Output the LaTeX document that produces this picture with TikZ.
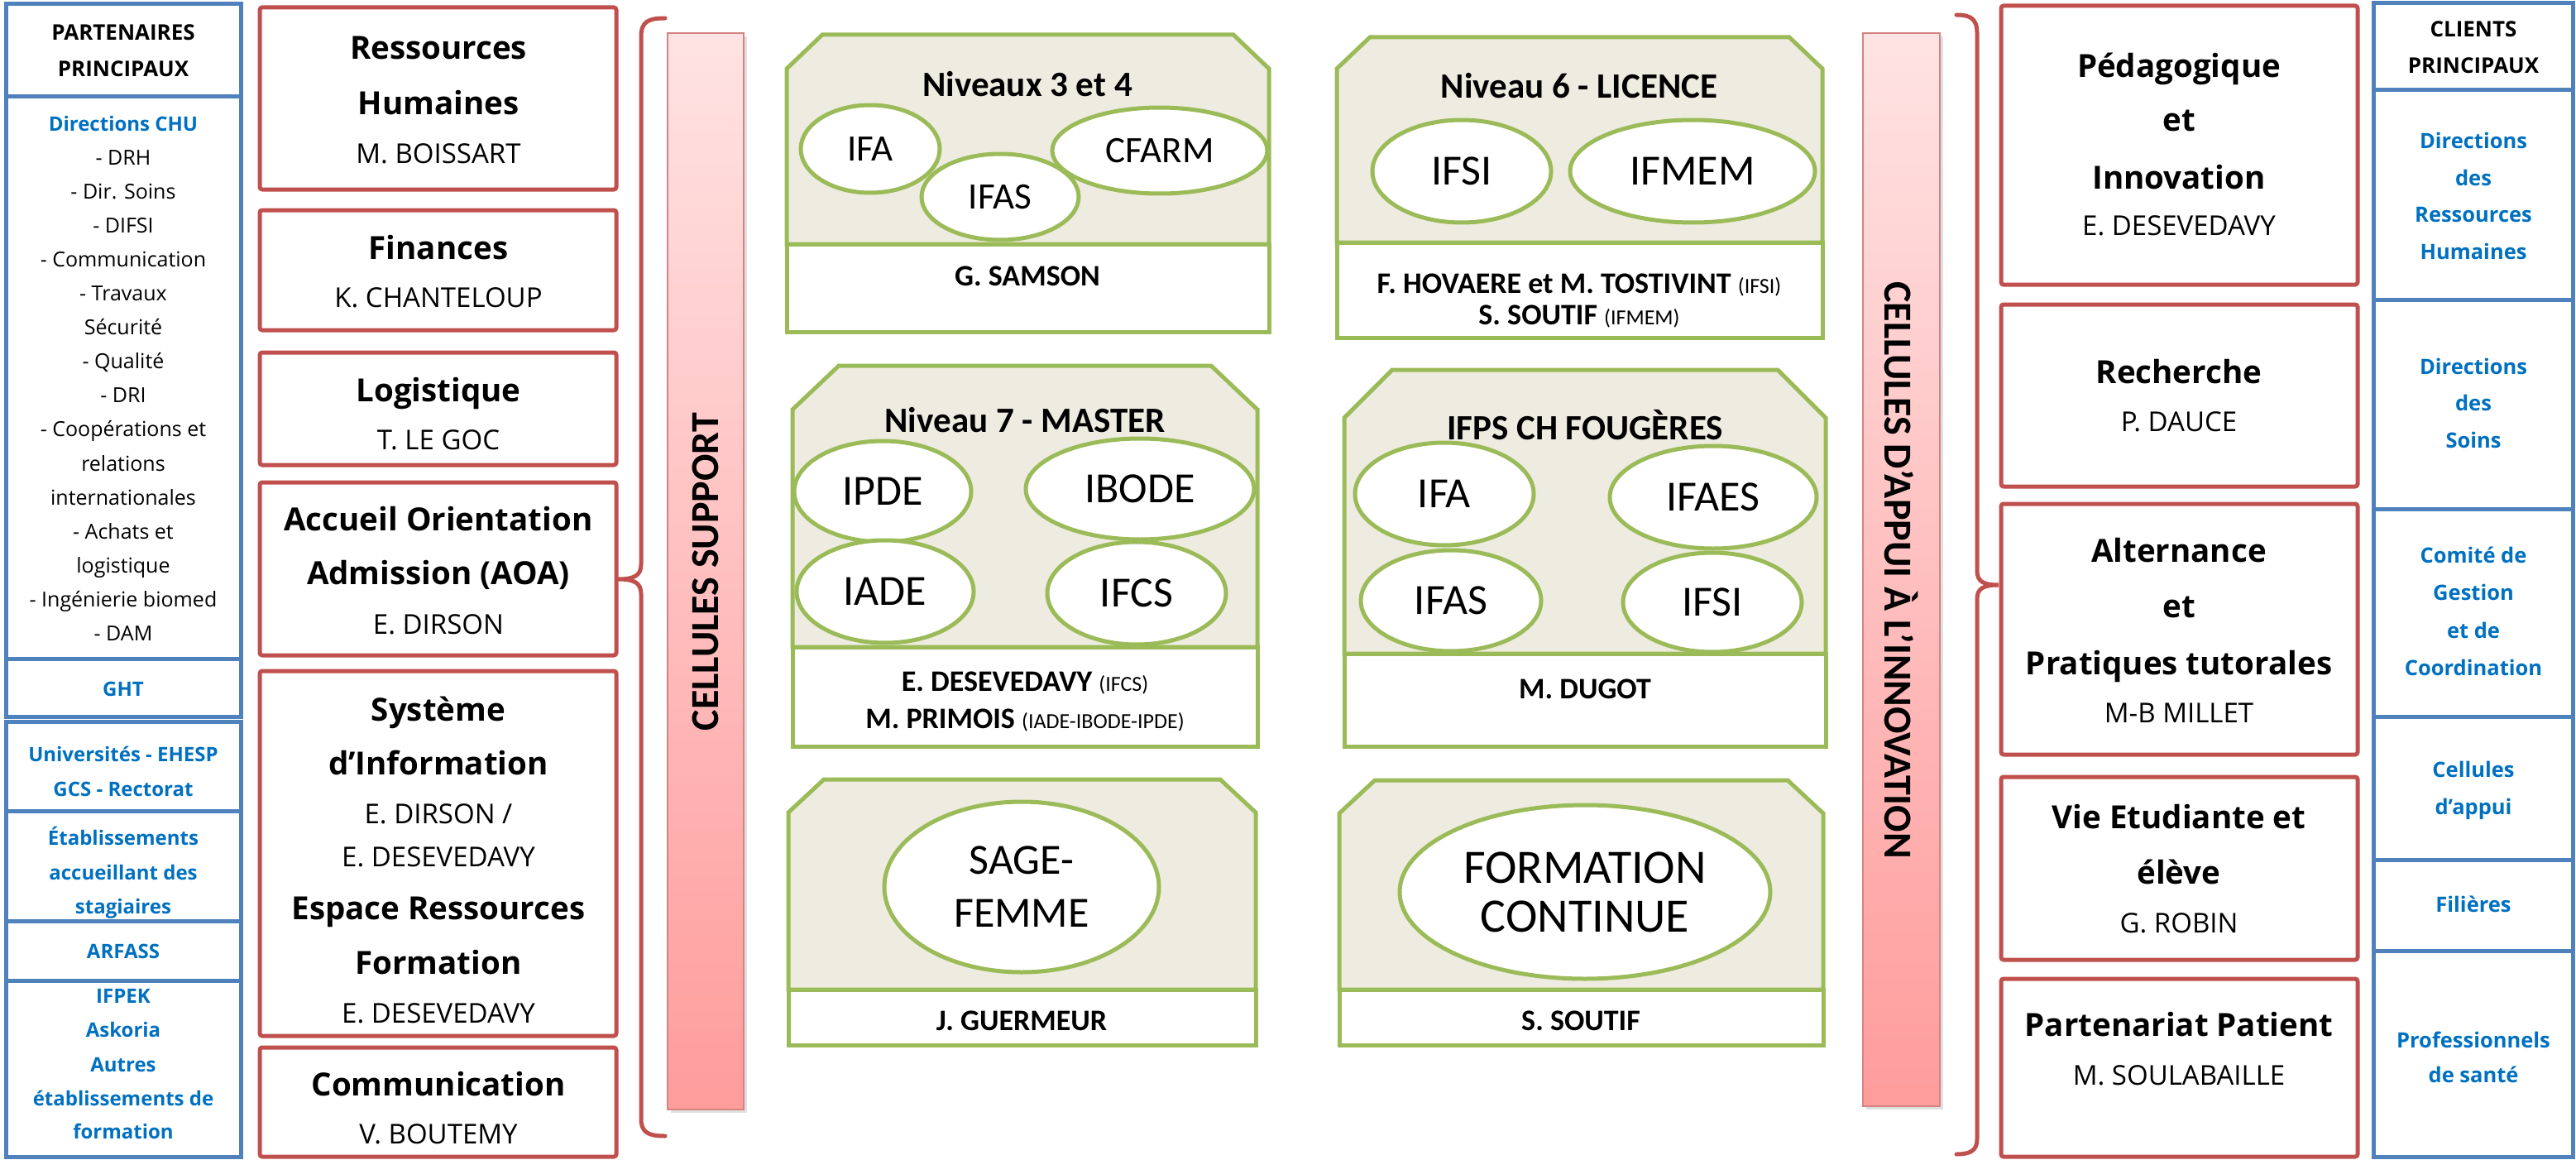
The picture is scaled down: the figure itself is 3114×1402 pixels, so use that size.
\documentclass[tikz,border=0pt]{standalone}
\usepackage{fontspec}
\setmainfont{Open Sans}
\newfontfamily\calf{Carlito}
\usetikzlibrary{shapes.geometric}
\definecolor{redc}{HTML}{C0504D}
\definecolor{bluec}{HTML}{4F81BD}
\definecolor{bluet}{HTML}{0070C0}
\definecolor{greenc}{HTML}{9BBB59}
\definecolor{beige}{HTML}{EEECE1}
\definecolor{pinkt}{HTML}{FFE3E3}
\definecolor{pinkb}{HTML}{FF9C9C}
\newcommand\sm{\calf\fontsize{26}{30}\selectfont\mdseries}
\begin{document}
\begin{tikzpicture}[x=1pt,y=-1pt,
 bluebox/.style={draw=bluec,line width=5pt},
 redbox/.style={draw=redc,line width=5pt,rounded corners=3pt},
 gline/.style={draw=greenc,line width=5pt,line join=miter},
 ell/.style={ellipse,draw=greenc,line width=5pt,fill=white,inner sep=0pt},
 brk/.style={draw=redc,line width=5pt,line cap=round},
 tx/.style={anchor=base,inner sep=0pt},
 ltitle/.style={tx,font=\fontsize{26}{30}\selectfont\bfseries},
 lreg/.style={tx,font=\fontsize{25}{30}\selectfont},
 lblue/.style={tx,text=bluet,font=\fontsize{24}{30}\selectfont\bfseries},
 rblue/.style={tx,text=bluet,font=\fontsize{25.5}{30}\selectfont\bfseries},
 rtitle/.style={tx,font=\fontsize{38.5}{46}\selectfont\bfseries},
 rname/.style={tx,font=\fontsize{33}{40}\selectfont},
 clab/.style={tx,font=\calf\fontsize{43}{50}\selectfont\bfseries},
 cname/.style={tx,font=\calf\fontsize{36}{42}\selectfont\bfseries},
 eA/.style={ell,font=\calf\fontsize{45}{50}\selectfont},
 eB/.style={ell,font=\calf\fontsize{52}{64}\selectfont,align=center},
 vbar/.style={font=\calf\fontsize{48}{50}\selectfont\bfseries,inner sep=0pt},
]
\useasboundingbox (0,0) rectangle (3114,1402);

% ---------- left column: partenaires ----------
\draw[bluebox] (7,5) rectangle (291,117);
\draw[bluebox] (7,117) rectangle (291,796);
\draw[bluebox] (7,796) rectangle (291,866);
\draw[bluebox] (7,872) rectangle (291,980);
\draw[bluebox] (7,980) rectangle (291,1113);
\draw[bluebox] (7,1113) rectangle (291,1185);
\draw[bluebox] (7,1185) rectangle (291,1398);
\node[ltitle] (p1) at (149,49) {PARTENAIRES};
\node[ltitle] (p2) at (149,93) {PRINCIPAUX};
\node[lblue] (chu0) at (149,158) {Directions CHU};
\foreach \t [count=\i] in {- DRH,- Dir. Soins,- DIFSI,- Communication,- Travaux,Sécurité,- Qualité,- DRI,- Coopérations et,relations,internationales,- Achats et,logistique,- Ingénierie biomed,- DAM}
  \node[lreg] (chu\i) at (149,{158+41.1*\i}) {\t};
\node[lblue] (ght) at (149,841) {GHT};
\node[lblue] (un1) at (149,920) {Universités - EHESP};
\node[lblue] (un2) at (149,962) {GCS - Rectorat};
\node[lblue] (et1) at (149,1021) {Établissements};
\node[lblue] (et2) at (149,1063) {accueillant des};
\node[lblue] (et3) at (149,1104) {stagiaires};
\node[lblue] (arf) at (149,1158) {ARFASS};
\node[lblue] (if1) at (149,1212) {IFPEK};
\node[lblue] (if2) at (149,1253) {Askoria};
\node[lblue] (if3) at (149,1295) {Autres};
\node[lblue] (if4) at (149,1336) {établissements de};
\node[lblue] (if5) at (149,1376) {formation};

% ---------- left red boxes ----------
\draw[redbox] (314,9) rectangle (745,229);
\draw[redbox] (314,254) rectangle (745,399);
\draw[redbox] (314,426) rectangle (745,562);
\draw[redbox] (314,583) rectangle (745,792);
\draw[redbox] (314,811) rectangle (745,1252);
\draw[redbox] (314,1266) rectangle (745,1398);
\node[rtitle] (rh1) at (530,72) {Ressources};
\node[rtitle] (rh2) at (530,139) {Humaines};
\node[rname] (rh3) at (530,197) {M. BOISSART};
\node[rtitle] (fi1) at (530,313) {Finances};
\node[rname] (fi2) at (530,371) {K. CHANTELOUP};
\node[rtitle] (lo1) at (530,485) {Logistique};
\node[rname] (lo2) at (530,543) {T. LE GOC};
\node[rtitle] (ao1) at (530,641) {Accueil Orientation};
\node[rtitle] (ao2) at (530,706) {Admission (AOA)};
\node[rname] (ao3) at (530,766) {E. DIRSON};
\node[rtitle] (si1) at (530,871) {Système};
\node[rtitle] (si2) at (530,936) {d’Information};
\node[rname] (si3) at (530,995) {E. DIRSON /};
\node[rname] (si4) at (530,1047) {E. DESEVEDAVY};
\node[rtitle] (si5) at (530,1111) {Espace Ressources};
\node[rtitle] (si6) at (530,1177) {Formation};
\node[rname] (si7) at (530,1236) {E. DESEVEDAVY};
\node[rtitle] (co1) at (530,1324) {Communication};
\node[rname] (co2) at (530,1382) {V. BOUTEMY};

% ---------- brackets ----------
\draw[brk] (804,22) .. controls (784,22) and (775,26) .. (775,44) -- (775,682) .. controls (775,696) and (766,700) .. (747,700) .. controls (766,700) and (775,704) .. (775,718) -- (775,1352) .. controls (775,1369) and (784,1373) .. (804,1373);
\draw[brk] (2365,18) .. controls (2381,18) and (2390,22) .. (2390,40) -- (2390,690) .. controls (2390,703) and (2398,707) .. (2416,707) .. controls (2398,707) and (2390,711) .. (2390,724) -- (2390,1377) .. controls (2390,1391) and (2381,1395) .. (2365,1395);

% ---------- pink bars ----------
\fill[black!12] (811,44) rectangle (903,1345);
\shade[top color=pinkt,bottom color=pinkb] (807,40) rectangle (899,1341);
\draw[draw=redc!70,line width=2pt] (807,40) rectangle (899,1341);
\node[vbar,rotate=90] (cs) at (853,691) {CELLULES SUPPORT};
\fill[black!12] (2256,44) rectangle (2349,1341);
\shade[top color=pinkt,bottom color=pinkb] (2252,40) rectangle (2345,1337);
\draw[draw=redc!70,line width=2pt] (2252,40) rectangle (2345,1337);
\node[vbar,rotate=-90] (ca) at (2298,689) {CELLULES D’APPUI À L’INNOVATION};

% ---------- central green boxes ----------
% A
\filldraw[gline,fill=beige] (951,295) -- (951,83) -- (994,42) -- (1491,42) -- (1534,83) -- (1534,295) -- cycle;
\filldraw[gline,fill=white] (951,295) rectangle (1534,401);
\node[eA,minimum width=168pt,minimum height=106pt] (a1) at (1052,180) {IFA};
\node[eA,minimum width=260pt,minimum height=104pt] (a3) at (1402,182) {CFARM};
\node[eA,minimum width=190pt,minimum height=104pt] (a2) at (1209,238) {IFAS};
\node[clab] (la) at (1242,117) {Niveaux 3 et 4};
\node[cname] (na) at (1242,345) {G. SAMSON};
% B
\filldraw[gline,fill=beige] (958,782) -- (958,495) -- (1014,442) -- (1464,442) -- (1520,495) -- (1520,782) -- cycle;
\filldraw[gline,fill=white] (958,782) rectangle (1520,902);
\node[eB,minimum width=214pt,minimum height=122pt] (b1) at (1067,594) {IPDE};
\node[eB,minimum width=276pt,minimum height=122pt] (b2) at (1378,591) {IBODE};
\node[eB,minimum width=214pt,minimum height=124pt] (b3) at (1070,715) {IADE};
\node[eB,minimum width=216pt,minimum height=124pt] (b4) at (1374,717) {IFCS};
\node[clab] (lb) at (1239,522) {Niveau 7 - MASTER};
\node[cname] (nb1) at (1239,835) {E. DESEVEDAVY {\sm (IFCS)}};
\node[cname] (nb2) at (1239,880) {M. PRIMOIS {\sm (IADE-IBODE-IPDE)}};
% C
\filldraw[gline,fill=beige] (953,1196) -- (953,982) -- (996,942) -- (1475,942) -- (1518,982) -- (1518,1196) -- cycle;
\filldraw[gline,fill=white] (953,1196) rectangle (1518,1263);
\node[eB,minimum width=332pt,minimum height=206pt] (c1) at (1235,1072) {SAGE-\\FEMME};
\node[cname] (nc) at (1235,1245) {J. GUERMEUR};
% D
\filldraw[gline,fill=beige] (1616,293) -- (1616,83) -- (1656,45) -- (2163,45) -- (2203,83) -- (2203,293) -- cycle;
\filldraw[gline,fill=white] (1616,293) rectangle (2203,408);
\node[eB,minimum width=216pt,minimum height=124pt] (d1) at (1767,207) {IFSI};
\node[eB,minimum width=296pt,minimum height=124pt] (d2) at (2046,207) {IFMEM};
\node[clab] (ld) at (1909,119) {Niveau 6 - LICENCE};
\node[cname] (nd1) at (1909,354) {F. HOVAERE et M. TOSTIVINT {\sm (IFSI)}};
\node[cname] (nd2) at (1909,392) {S. SOUTIF {\sm (IFMEM)}};
% E
\filldraw[gline,fill=beige] (1625,790) -- (1625,505) -- (1683,447) -- (2149,447) -- (2207,505) -- (2207,790) -- cycle;
\filldraw[gline,fill=white] (1625,790) rectangle (2207,902);
\node[eB,minimum width=216pt,minimum height=124pt] (e1) at (1746,597) {IFA};
\node[eB,minimum width=250pt,minimum height=124pt] (e2) at (2071,601) {IFAES};
\node[eB,minimum width=218pt,minimum height=122pt] (e3) at (1754,726) {IFAS};
\node[eB,minimum width=216pt,minimum height=120pt] (e4) at (2070,728) {IFSI};
\node[clab] (le) at (1916,531) {IFPS CH FOUGÈRES};
\node[cname] (ne) at (1916,844) {M. DUGOT};
% F
\filldraw[gline,fill=beige] (1619,1196) -- (1619,983) -- (1662,943) -- (2161,943) -- (2204,983) -- (2204,1196) -- cycle;
\filldraw[gline,fill=white] (1619,1196) rectangle (2204,1263);
\node[ell,font=\calf\fontsize{58}{59}\selectfont,align=center,minimum width=448pt,minimum height=210pt] (f1) at (1916,1078) {FORMATION\\CONTINUE};
\node[cname] (nf) at (1911,1245) {S. SOUTIF};

% ---------- right red boxes ----------
\draw[redbox] (2419,7) rectangle (2850,344);
\draw[redbox] (2419,368) rectangle (2850,588);
\draw[redbox] (2419,609) rectangle (2850,912);
\draw[redbox] (2419,939) rectangle (2850,1160);
\draw[redbox] (2419,1183) rectangle (2850,1398);
\node[rtitle] (pe1) at (2634,94) {Pédagogique};
\node[rtitle] (pe2) at (2634,159) {et};
\node[rtitle] (pe3) at (2634,228) {Innovation};
\node[rname] (pe4) at (2634,284) {E. DESEVEDAVY};
\node[rtitle] (re1) at (2634,463) {Recherche};
\node[rname] (re2) at (2634,521) {P. DAUCE};
\node[rtitle] (al1) at (2634,679) {Alternance};
\node[rtitle] (al2) at (2634,746) {et};
\node[rtitle] (al3) at (2634,815) {Pratiques tutorales};
\node[rname] (al4) at (2634,873) {M-B MILLET};
\node[rtitle] (vi1) at (2634,1001) {Vie Etudiante et};
\node[rtitle] (vi2) at (2634,1068) {élève};
\node[rname] (vi3) at (2634,1127) {G. ROBIN};
\node[rtitle] (pa1) at (2634,1252) {Partenariat Patient};
\node[rname] (pa2) at (2634,1311) {M. SOULABAILLE};

% ---------- right column: clients ----------
\draw[bluebox] (2869,4) rectangle (3110,109);
\draw[bluebox] (2869,109) rectangle (3110,362);
\draw[bluebox] (2869,362) rectangle (3110,615);
\draw[bluebox] (2869,615) rectangle (3110,866);
\draw[bluebox] (2869,866) rectangle (3110,1039);
\draw[bluebox] (2869,1039) rectangle (3110,1149);
\draw[bluebox] (2869,1149) rectangle (3110,1398);
\node[ltitle] (c1t) at (2990,45) {CLIENTS};
\node[ltitle] (c2t) at (2990,89) {PRINCIPAUX};
\node[rblue] (k1) at (2990,179) {Directions};
\node[rblue] (k2) at (2990,224) {des};
\node[rblue] (k3) at (2990,268) {Ressources};
\node[rblue] (k4) at (2990,313) {Humaines};
\node[rblue] (k5) at (2990,452) {Directions};
\node[rblue] (k6) at (2990,496) {des};
\node[rblue] (k7) at (2990,541) {Soins};
\node[rblue] (k8) at (2990,680) {Comité de};
\node[rblue] (k9) at (2990,725) {Gestion};
\node[rblue] (k10) at (2990,771) {et de};
\node[rblue] (k11) at (2990,816) {Coordination};
\node[rblue] (k12) at (2990,939) {Cellules};
\node[rblue] (k13) at (2990,984) {d’appui};
\node[rblue] (k14) at (2990,1102) {Filières};
\node[rblue] (k15) at (2990,1266) {Professionnels};
\node[rblue] (k16) at (2990,1308) {de santé};
\end{tikzpicture}
\end{document}
